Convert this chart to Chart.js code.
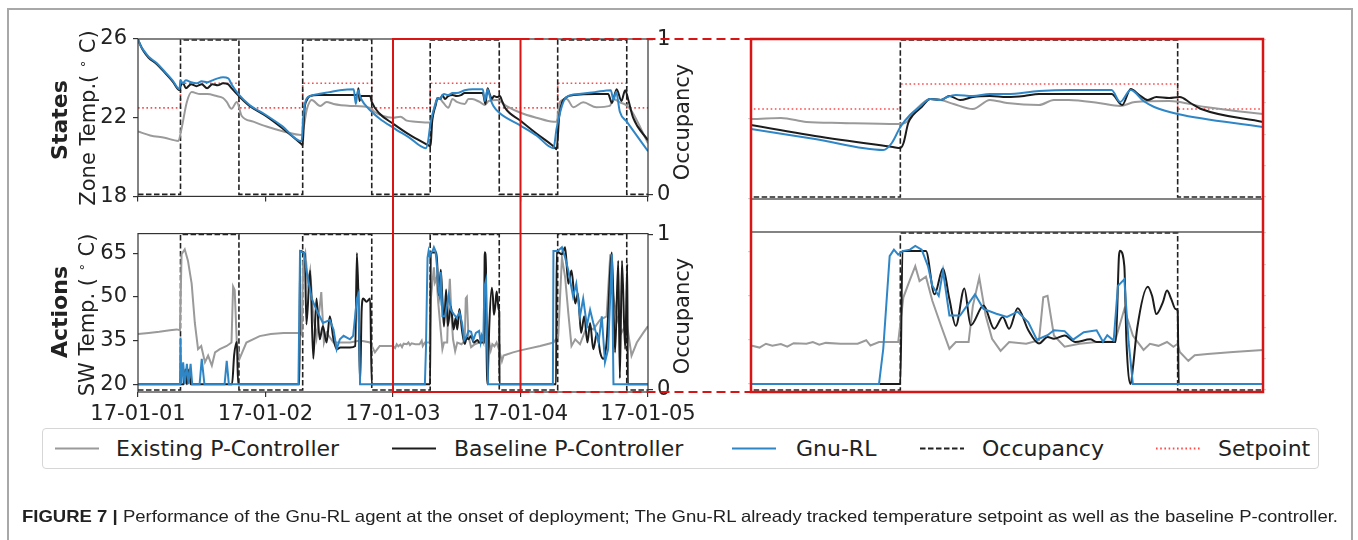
<!DOCTYPE html>
<html>
<head>
<meta charset="utf-8">
<script src="https://cdn.jsdelivr.net/npm/chart.js@4.4.1/dist/chart.umd.min.js"></script>
<style>
  html, body { margin: 0; padding: 0; background: #fff; }
  body { width: 1358px; height: 540px; position: relative; overflow: hidden; font-family: "DejaVu Sans", sans-serif; color: #222; }
  .panel { position: absolute; }
  .vlab { position: absolute; white-space: nowrap; transform: translate(-50%, -50%) rotate(-90deg); font-size: 21px; line-height: 1; }
  .vlab.bold { font-weight: bold; font-size: 22px; }
  .deg { font-size: 13px; position: relative; top: -8px; }
  #frame { position: absolute; left: 7px; top: 8px; width: 1346px; height: 600px; border: 2px solid #a8a8a8; box-sizing: border-box; }
  #legend { position: absolute; left: 42px; top: 428px; width: 1277px; height: 41px; border: 1px solid #d6d6d6; border-radius: 4px; box-sizing: border-box; }
  .lgtext { position: absolute; top: 7px; font-size: 22px; line-height: 26px; white-space: nowrap; color: #222; }
  svg { position: absolute; left: 0; top: 0; pointer-events: none; }
</style>
</head>
<body>
<div id="frame"></div>

<div class="panel" id="p-tl"><canvas id="c-tl"></canvas></div>
<div class="panel" id="p-bl"><canvas id="c-bl"></canvas></div>
<div class="panel" id="p-tr"><canvas id="c-tr"></canvas></div>
<div class="panel" id="p-br"><canvas id="c-br"></canvas></div>

<div class="vlab bold" style="left:60px; top:120px;">States</div>
<div class="vlab" style="left:88px; top:118px;">Zone Temp.( <span class="deg">∘</span> C)</div>
<div class="vlab" style="left:682px; top:122px;">Occupancy</div>
<div class="vlab bold" style="left:60px; top:312px;">Actions</div>
<div class="vlab" style="left:87px; top:315px;">SW Temp. ( <span class="deg">∘</span> C)</div>
<div class="vlab" style="left:682px; top:316px;">Occupancy</div>

<div id="legend"></div>

<svg id="overlay" width="1358" height="540"></svg>

<script>
// time axis is in hours from 17-01-01 00:00
const dayTicks = [0, 24, 48, 72, 96];
const dayLabels = ['17-01-01', '17-01-02', '17-01-03', '17-01-04', '17-01-05'];
const tempTicks = [18, 22, 26];
const swTicks = [20, 35, 50, 65];
const occTicks = [0, 1];
const occMinorTicks = [0, 0.2, 0.4, 0.6, 0.8, 1];
const tempRange = [18, 26];
const swRange = [17.3, 71.7];
const occRange = [-0.013, 1.006];
const zoomRange = [48, 72];

const seriesNames = ['Existing P-Controller', 'Baseline P-Controller', 'Gnu-RL', 'Occupancy', 'Setpoint'];

// occupancy / setpoint, stepped (value holds until next point)
const occupancy = [[0, 0], [8, 1], [19, 0], [31, 1], [44, 0], [55, 1], [68, 0], [79, 1], [92, 0], [96, 0]];
const setpoint = [[0, 22.5], [8, 23.75], [19, 22.5], [31, 23.75], [44, 22.5], [55, 23.75], [68, 22.5], [79, 23.75], [92, 22.5], [96, 22.5]];

// zone temperature (deg C)
const gnuTemp = [[0, 26.0], [0.5, 25.65], [1, 25.45], [2, 25.1], [3.5, 24.78], [5, 24.35], [6.5, 23.9], [7.8, 23.45],
  [8.0, 23.9], [8.4, 23.75], [9, 23.9], [10, 23.8], [11, 23.75], [12, 23.85], [13, 23.8], [14, 23.9], [15, 24.0], [16, 24.05], [17, 24.0], [17.6, 23.7], [18.9, 23.2],
  [21, 22.65], [24, 22.15], [27, 21.6], [30.8, 20.8],
  [31.1, 22.0], [31.5, 22.8], [32.4, 23.1], [34, 23.2], [36, 23.3], [38, 23.4], [40.6, 23.45], [41.0, 22.7], [41.4, 23.4], [41.9, 23.0], [44, 22.3], [45.5, 21.95],
  [48, 21.5], [51, 21.0], [54.2, 20.45], [54.6, 20.8], [55.0, 21.6], [55.45, 22.2], [55.9, 22.6], [56.4, 23.0], [56.9, 22.95], [57.2, 23.1], [57.6, 23.2], [58.4, 23.15], [59.2, 23.25], [60, 23.25], [61.5, 23.4], [63, 23.45], [64.4, 23.45], [64.9, 23.45], [65.3, 22.85], [65.8, 23.45], [66.4, 22.9], [66.9, 22.6], [68, 22.25], [72, 21.6],
  [75, 21.1], [78.2, 20.45], [78.8, 21.45], [79.8, 22.6], [80.7, 23.05], [83, 23.2], [86, 23.3], [89, 23.4], [89.5, 22.9], [90, 23.3], [90.7, 22.3], [92, 21.8], [96, 20.3]];

const baseTemp = [[0, 25.95], [1, 25.4], [2, 25.05], [3.5, 24.73], [5, 24.3], [6.5, 23.85], [7.8, 23.4],
  [8.0, 23.6], [8.5, 23.75], [9, 23.5], [10, 23.7], [11, 23.6], [12, 23.7], [13, 23.5], [14, 23.7], [15, 23.65], [16, 23.75], [17, 23.7], [17.6, 23.5], [19, 23.1],
  [21, 22.6], [24, 22.1], [27, 21.5], [30.8, 20.65],
  [31.0, 20.6], [31.3, 22.3], [31.8, 22.9], [32.4, 23.1], [34, 23.15], [38, 23.15], [41.3, 23.15], [41.5, 23.5], [41.7, 22.85], [42, 23.1], [43.7, 23.1], [44, 22.8], [45.5, 22.2],
  [48, 21.7], [51, 21.15], [54.65, 20.6], [55.0, 20.55], [55.15, 20.8], [55.37, 21.8], [55.6, 22.2], [56, 22.6], [56.4, 23.0], [56.9, 22.95], [57.3, 23.15], [57.8, 22.95], [58.4, 23.1], [59.2, 23.15], [60, 23.1], [60.8, 23.15], [61.5, 23.25], [63, 23.25], [64.9, 23.25], [65.4, 22.7], [65.8, 23.5], [66.2, 23.2], [66.6, 22.95], [67, 23.1], [67.6, 23.05], [68.1, 23.1], [68.6, 22.8], [69.1, 22.5], [72, 21.85],
  [75, 21.2], [78.2, 20.55], [78.8, 20.4], [79.3, 22.1], [80.7, 23.05], [82, 23.15], [86, 23.2], [88.5, 23.2], [89.2, 22.75], [90.1, 23.45], [91.0, 22.85], [91.7, 23.4], [92.3, 22.9], [93.2, 22.0], [96, 20.85]];

const existTemp = [[0, 21.3], [2.3, 21.1], [5, 20.98], [7.6, 20.82], [8.2, 21.45], [9.2, 22.8], [10.1, 23.3], [11.7, 23.2], [13, 23.2], [14.8, 23.1], [16, 23.0], [16.7, 22.8], [17.6, 22.45], [18.6, 22.8], [19.5, 22.1], [21.7, 21.8], [24.2, 21.55], [27.4, 21.3], [30.8, 21.12],
  [31.8, 22.45], [32.7, 22.9], [34.3, 22.6], [35.5, 22.8], [36.8, 22.7], [40, 22.6], [43.7, 22.5], [44.5, 22.3], [46, 22.1],
  [48, 22.0], [49.4, 22.05], [50.6, 21.85], [52.2, 21.8], [54.9, 21.75], [55.3, 21.85], [55.6, 22.3], [56, 22.75], [56.4, 23.0], [56.9, 22.95], [57.5, 22.75], [58.4, 22.5], [59.2, 22.95], [60, 22.8], [61.5, 22.7], [62.2, 22.95], [62.9, 22.95], [64.3, 22.8], [65.3, 22.65], [66, 22.85], [67.6, 22.9], [69.3, 22.6], [72, 22.25],
  [75, 22.0], [78.2, 21.8], [78.8, 21.8], [79.4, 22.78], [80.7, 22.95], [81.95, 22.53], [83.8, 22.78], [86.3, 22.53], [88.8, 22.6], [89.5, 22.95], [90.7, 22.78], [92, 22.62], [93, 22.3], [96, 20.7]];

// supply water temperature (deg C)
const gnuSW = [[0, 20], [7.9, 20], [8.0, 36], [8.15, 20], [8.5, 27.5], [8.8, 20], [9.2, 27], [9.5, 20], [9.9, 27], [10.2, 20], [11.6, 20], [12.0, 28.7], [12.5, 20], [16.3, 20], [16.7, 28], [17.1, 20],
  [30.2, 20], [30.5, 65.7], [31.3, 65], [31.7, 59], [32.7, 49.4], [33.6, 45.5], [34.2, 43.3], [34.8, 41], [36.1, 42], [36.8, 38.8], [37.4, 32], [38.0, 35.4], [38.7, 36.6], [39.9, 35.4], [40.5, 36.6], [41.2, 49.4], [41.5, 51], [41.8, 20],
  [54.0, 20], [54.2, 32], [54.5, 63.5], [54.7, 65.7], [54.9, 64], [55.1, 65.2], [55.45, 65.7], [55.7, 67], [56.0, 65.7], [56.3, 60], [56.5, 53.4], [56.8, 50], [57.0, 58.5], [57.3, 43.3], [57.8, 43.3], [58.5, 50.5], [58.9, 45.5], [59.5, 43.9], [60.0, 42.8], [60.5, 44.6], [61.0, 41], [61.4, 35.1], [61.9, 36.6], [62.2, 38.3], [62.7, 38.0], [63.1, 35.1], [63.6, 37.6], [64.2, 38.3], [64.5, 34.4], [64.7, 36.6], [65.0, 34.8], [65.2, 53.4], [65.5, 55.6], [65.7, 34.4], [65.9, 20],
  [78.1, 20], [78.2, 65.7], [79.0, 65.7], [79.8, 67], [80.4, 63.5], [81.0, 59], [81.9, 50], [82.5, 54.5], [83.2, 43.3], [83.8, 49.4], [84.5, 40.1], [85.1, 45.5], [85.7, 41], [86.7, 34.4], [87.3, 43.3], [87.9, 27.5], [88.5, 32], [89.2, 64.6], [89.5, 20], [96, 20]];

const baseSW = [[0, 20], [8.6, 20], [8.9, 25], [9.2, 20], [9.6, 25], [9.9, 20], [17.7, 20], [18.1, 30], [18.6, 34.5], [18.85, 20],
  [30.4, 20], [30.5, 65.7], [31.4, 64.6], [31.7, 40.5], [32.4, 59], [33.0, 28.7], [33.6, 49.4], [34.2, 35.4], [34.8, 39.9], [35.5, 34.3], [36.1, 43.3], [36.8, 35.4], [37.4, 32], [38.1, 32.6], [39.9, 32.6], [40.9, 33.1], [41.2, 65], [41.5, 49.4], [41.8, 20], [42.1, 45.5], [42.4, 49.4], [43, 48.3], [43.7, 49.4], [44.0, 20],
  [55.0, 20], [55.1, 65.2], [56.2, 65.2], [56.6, 50.5], [57.0, 59.3], [57.3, 48.9], [57.6, 39.8], [58.0, 52.5], [58.3, 40.0], [58.9, 46.7], [59.4, 38.8], [59.8, 42.8], [60.1, 38.8], [60.5, 45.8], [61.0, 38.3], [61.5, 33.8], [61.9, 36.0], [62.2, 35.4], [62.7, 36.5], [63.2, 34.3], [63.9, 35.2], [64.2, 34.3], [65.1, 34.3], [65.25, 63.7], [65.3, 65.3], [65.5, 60.1], [65.6, 34.3], [65.8, 20], [65.9, 25.4], [66.1, 38.8], [66.6, 53.1], [66.8, 50], [67.0, 43.8], [67.3, 47.7], [67.5, 51.8], [67.7, 48.9], [67.9, 45.5], [68.0, 44.9], [68.05, 20],
  [78.7, 20], [78.8, 65.7], [79.8, 64.6], [80.4, 67], [81.0, 54.5], [81.6, 59], [82.3, 47.7], [82.8, 51.1], [83.4, 37.6], [84.0, 43.3], [84.6, 34.3], [85.1, 41], [85.7, 32], [86.4, 37.6], [87.0, 30.9], [87.6, 28.7], [88.2, 34.3], [89.2, 65.2], [89.8, 30.9], [90.4, 62.4], [90.7, 22], [91.1, 62.4], [91.7, 32], [92.1, 61.3], [92.2, 20], [96, 20]];

const existSW = [[0, 37.2], [2, 37.6], [4, 38], [6, 38.5], [7.3, 38.8], [7.9, 38.5], [8.2, 64.6], [8.8, 66.3], [9.4, 62.4], [10.1, 54.5], [10.7, 41], [11.3, 32], [11.9, 33.1], [12.6, 27.5], [13.2, 29.8], [13.9, 26.4], [14.5, 30.9], [15.4, 32], [16.7, 33.1], [17.6, 34.3], [17.9, 53.5], [18.2, 52.3], [18.6, 34.3], [19.1, 28.7], [20.4, 34.3], [22.9, 36.5], [25, 37.2], [27.4, 37.6], [30.5, 37.6],
  [30.8, 37], [31.1, 62], [31.5, 65], [32.0, 55], [32.4, 59], [33.0, 43.3], [33.6, 36], [34.5, 51.6], [35.0, 34.3], [35.5, 37.6], [36.8, 34.3], [39.9, 34.3], [41.8, 35], [43.7, 34.3], [44.6, 30.9], [45.5, 33.1], [47, 33.1],
  [48, 33.1], [48.4, 32.4], [48.7, 33.7], [49.0, 33.0], [49.4, 33.6], [49.7, 32.7], [50.0, 33.9], [50.6, 33.7], [50.9, 34.3], [51.2, 33.4], [51.5, 34.0], [52.2, 33.7], [53.0, 33.7], [53.4, 34.9], [53.6, 33.1], [54.0, 34.3], [54.9, 34.3], [55.14, 49.4], [55.4, 54.5], [55.7, 60.1], [55.9, 55], [56.2, 56.5], [56.5, 48.3], [56.9, 40], [57.3, 32], [57.6, 34.3], [58.2, 34.3], [58.4, 46.6], [58.7, 56.2], [59.0, 43.3], [59.3, 35.4], [59.7, 31.3], [60.1, 34.3], [60.9, 33.7], [61.5, 34.9], [61.7, 49.5], [61.9, 50], [62.2, 36.5], [62.7, 32.7], [63.4, 33.7], [64.2, 34.3], [65.06, 34.5], [65.5, 45.5], [65.9, 36.5], [66.4, 31.6], [66.7, 33.7], [67.1, 33.0], [67.5, 34.3], [67.8, 32.7], [68.0, 33.7], [68.1, 30.9], [68.5, 27.9], [68.8, 29.8], [69.4, 30.2], [70.6, 30.9], [72, 31.6],
  [75.7, 33.1], [78.2, 34.3], [79.1, 36.5], [79.8, 63.5], [80.4, 56.7], [81.0, 44.4], [81.6, 33.1], [82.3, 35.4], [83.2, 33.7], [84.5, 39.9], [85.7, 38.8], [87.0, 42.1], [88.2, 43.3], [88.9, 64.6], [89.5, 50], [90.1, 43.3], [91.0, 37.6], [92.0, 41], [92.9, 29.8], [93.9, 34.3], [95.1, 37.6], [96, 39.9]];

const COLORS = { exist: '#9a9a9a', base: '#1c1c1c', gnu: '#2f86c6', occ: '#222222', set: '#ff4a4a', red: '#d81414', axis: '#333333', faint: '#d4d4d4' };

// canvas boxes; fixed axis sizes put the plot areas where the figure has them
const panels = {
  tl: { left: 0, top: 0, width: 740, height: 215, padTop: 39, yW: 138, occW: 92, xH: 16, zoom: false, kind: 'temp' },
  bl: { left: 0, top: 215, width: 740, height: 210, padTop: 17, yW: 138, occW: 92, xH: 33, zoom: false, kind: 'sw' },
  tr: { left: 740, top: 0, width: 618, height: 215, padTop: 39, yW: 11, occW: 95, xH: 16, zoom: true, kind: 'temp' },
  br: { left: 740, top: 215, width: 618, height: 210, padTop: 17, yW: 11, occW: 95, xH: 33, zoom: true, kind: 'sw' }
};

const pts = arr => arr.map(([x, y]) => ({ x, y }));

const framePlugin = {
  id: 'frame',
  afterDatasetsDraw(chart) {
    const { ctx, chartArea: a } = chart;
    ctx.save();
    ctx.strokeStyle = COLORS.axis;
    ctx.lineWidth = 1.2;
    ctx.strokeRect(a.left, a.top, a.right - a.left, a.bottom - a.top);
    ctx.restore();
  }
};

const tickFont = { family: 'DejaVu Sans', size: 21 };

function lineSet(label, data, color, order, extra) {
  return Object.assign({
    label, data: pts(data), borderColor: color, borderWidth: 2, pointRadius: 0,
    fill: false, order, yAxisID: 'y', tension: 0
  }, extra || {});
}

function buildChart(key) {
  const p = panels[key];
  const box = document.getElementById('p-' + key);
  Object.assign(box.style, { left: p.left + 'px', top: p.top + 'px', width: p.width + 'px', height: p.height + 'px' });

  const isTemp = p.kind === 'temp';
  const datasets = [];
  if (isTemp) {
    datasets.push(lineSet(seriesNames[2], gnuTemp, COLORS.gnu, 0, { cubicInterpolationMode: 'monotone' }));
    datasets.push(lineSet(seriesNames[1], baseTemp, COLORS.base, 1, { cubicInterpolationMode: 'monotone' }));
    datasets.push(lineSet(seriesNames[0], existTemp, COLORS.exist, 2, { cubicInterpolationMode: 'monotone' }));
  } else {
    datasets.push(lineSet(seriesNames[2], gnuSW, COLORS.gnu, 0));
    datasets.push(lineSet(seriesNames[1], baseSW, COLORS.base, 1, { cubicInterpolationMode: 'monotone' }));
    datasets.push(lineSet(seriesNames[0], existSW, COLORS.exist, 2));
  }
  datasets.push(lineSet(seriesNames[3], occupancy, COLORS.occ, 3, { yAxisID: 'occ', stepped: true, borderDash: [5.5, 2.5], borderWidth: 1.6 }));
  if (isTemp) {
    datasets.push(lineSet(seriesNames[4], setpoint, COLORS.set, 4, { stepped: true, borderDash: [1.6, 2.6], borderWidth: 1.6 }));
  }

  const yTicks = isTemp ? tempTicks : swTicks;
  const yRange = isTemp ? tempRange : swRange;
  const xRange = p.zoom ? zoomRange : [dayTicks[0], dayTicks[dayTicks.length - 1]];
  const tickColor = p.zoom ? COLORS.faint : COLORS.axis;

  return new Chart(document.getElementById('c-' + key), {
    type: 'line',
    data: { datasets },
    options: {
      responsive: true, maintainAspectRatio: false, animation: false,
      layout: { padding: { top: p.padTop, left: 0, right: 0, bottom: 0 } },
      plugins: { legend: { display: false }, tooltip: { enabled: false } },
      scales: {
        x: {
          type: 'linear', min: xRange[0], max: xRange[1],
          afterBuildTicks: s => { s.ticks = p.zoom ? [] : dayTicks.map(v => ({ value: v })); },
          afterFit: s => { s.height = p.xH; },
          grid: { drawOnChartArea: false, drawTicks: true, tickLength: 5, color: COLORS.axis, lineWidth: 1.2 },
          border: { display: false },
          ticks: {
            display: key === 'bl', padding: 5, color: '#222', font: tickFont, maxRotation: 0, autoSkip: false,
            callback: (v, i) => dayLabels[i]
          }
        },
        y: {
          position: 'left', min: yRange[0], max: yRange[1],
          afterBuildTicks: s => { s.ticks = yTicks.map(v => ({ value: v })); },
          afterFit: s => { s.width = p.yW; },
          grid: { drawOnChartArea: false, drawTicks: true, tickLength: p.zoom ? 3 : 5, color: tickColor, lineWidth: 1.2 },
          border: { display: false },
          ticks: { display: !p.zoom, padding: 6, color: '#222', font: tickFont, autoSkip: false }
        },
        occ: {
          position: 'right', min: occRange[0], max: occRange[1],
          afterBuildTicks: s => { s.ticks = (p.zoom ? occMinorTicks : occTicks).map(v => ({ value: v })); },
          afterFit: s => { s.width = p.occW; },
          grid: { drawOnChartArea: false, drawTicks: true, tickLength: p.zoom ? 3 : 5, color: tickColor, lineWidth: 1.2 },
          border: { display: false },
          ticks: { display: !p.zoom, padding: 4, color: '#222', font: tickFont, autoSkip: false, callback: v => String(v) }
        }
      }
    },
    plugins: [framePlugin]
  });
}

const charts = {};
Object.keys(panels).forEach(k => { charts[k] = buildChart(k); });

// zoom box + connectors, placed from the chart scales
function drawOverlay() {
  const svg = document.getElementById('overlay');
  const NS = 'http://www.w3.org/2000/svg';
  const add = (tag, attrs) => {
    const el = document.createElementNS(NS, tag);
    Object.entries(attrs).forEach(([k, v]) => el.setAttribute(k, v));
    svg.appendChild(el);
    return el;
  };
  const tl = charts.tl, bl = charts.bl, tr = charts.tr, br = charts.br;
  const x1 = panels.tl.left + tl.scales.x.getPixelForValue(zoomRange[0]);
  const x2 = panels.tl.left + tl.scales.x.getPixelForValue(zoomRange[1]);
  const yTop = panels.tl.top + tl.chartArea.top;
  const yBot = panels.bl.top + bl.chartArea.bottom;
  const rx1 = panels.tr.left + tr.chartArea.left;
  const rx2 = panels.tr.left + tr.chartArea.right;
  const ryTop = panels.tr.top + tr.chartArea.top;
  const ryBot = panels.br.top + br.chartArea.bottom;

  add('rect', { x: x1, y: yTop, width: x2 - x1, height: yBot - yTop, fill: 'none', stroke: COLORS.red, 'stroke-width': 2 });
  add('line', { x1: x2, y1: yTop, x2: rx1, y2: ryTop, stroke: COLORS.red, 'stroke-width': 2, 'stroke-dasharray': '9 5' });
  add('line', { x1: x2, y1: yBot, x2: rx1, y2: ryBot, stroke: COLORS.red, 'stroke-width': 2, 'stroke-dasharray': '9 5' });
  add('rect', { x: rx1, y: ryTop, width: rx2 - rx1, height: ryBot - ryTop, fill: 'none', stroke: COLORS.red, 'stroke-width': 2.5 });

  // caption
  const cap = add('text', { x: 22, y: 522, 'font-family': 'Liberation Sans, Arial, sans-serif', 'font-size': 16.5, fill: '#222', textLength: 1316, lengthAdjust: 'spacingAndGlyphs' });
  const b = document.createElementNS(NS, 'tspan');
  b.setAttribute('font-weight', 'bold');
  b.textContent = 'FIGURE 7 | ';
  cap.appendChild(b);
  const r = document.createElementNS(NS, 'tspan');
  r.textContent = 'Performance of the Gnu-RL agent at the onset of deployment; The Gnu-RL already tracked temperature setpoint as well as the baseline P-controller.';
  cap.appendChild(r);
}
drawOverlay();

// legend
const legendItems = [
  { name: seriesNames[0], color: COLORS.exist, dash: '', x: 11, tx: 73 },
  { name: seriesNames[1], color: COLORS.base, dash: '', x: 348, tx: 411 },
  { name: seriesNames[2], color: COLORS.gnu, dash: '', x: 688, tx: 753 },
  { name: seriesNames[3], color: COLORS.occ, dash: '5.5 2.5', x: 876, tx: 939 },
  { name: seriesNames[4], color: COLORS.set, dash: '1.6 2.6', x: 1112, tx: 1175 }
];
const legend = document.getElementById('legend');
legendItems.forEach(it => {
  const s = document.createElementNS('http://www.w3.org/2000/svg', 'svg');
  s.setAttribute('width', 46); s.setAttribute('height', 40);
  s.style.left = it.x + 'px'; s.style.top = '0px';
  const ln = document.createElementNS('http://www.w3.org/2000/svg', 'line');
  ln.setAttribute('x1', 1); ln.setAttribute('x2', 45); ln.setAttribute('y1', 19.5); ln.setAttribute('y2', 19.5);
  ln.setAttribute('stroke', it.color); ln.setAttribute('stroke-width', 1.8);
  if (it.dash) ln.setAttribute('stroke-dasharray', it.dash);
  s.appendChild(ln);
  legend.appendChild(s);
  const t = document.createElement('div');
  t.className = 'lgtext';
  t.style.left = it.tx + 'px';
  t.textContent = it.name;
  legend.appendChild(t);
});
</script>
</body>
</html>
